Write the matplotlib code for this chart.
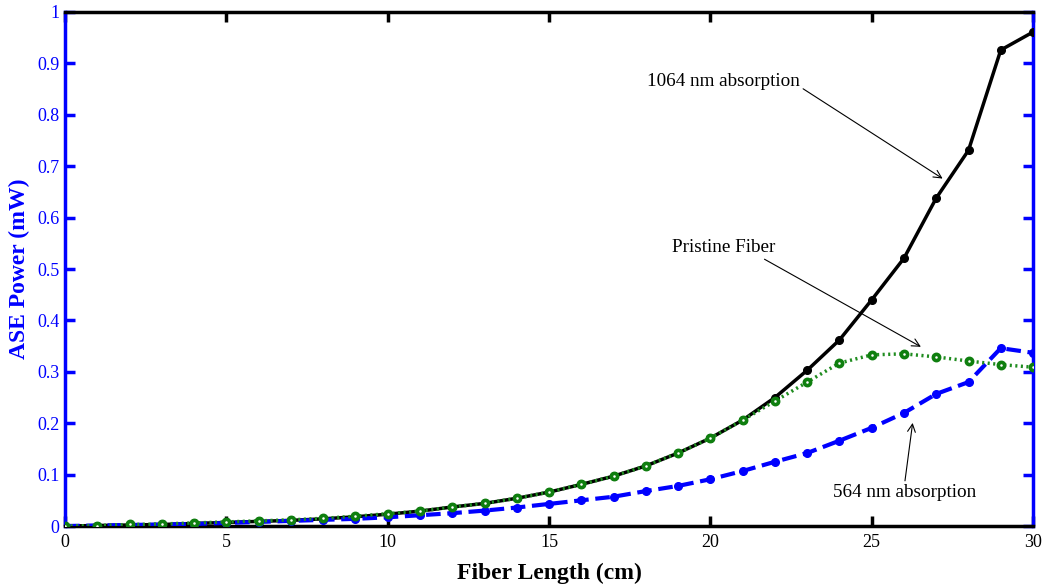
import matplotlib
matplotlib.use("Agg")
import matplotlib.pyplot as plt

# Fiber length positions (cm)
length_cm = list(range(0, 31))

# ASE power (mW) for each fiber condition
power_1064 = [0.000, 0.001, 0.002, 0.003, 0.005, 0.007, 0.009, 0.011, 0.014, 0.018,
              0.023, 0.029, 0.037, 0.044, 0.054, 0.066, 0.081, 0.097, 0.117, 0.142,
              0.171, 0.206, 0.250, 0.303, 0.362, 0.440, 0.521, 0.638, 0.731, 0.926,
              0.961]
power_pristine = [0.000, 0.001, 0.003, 0.004, 0.006, 0.008, 0.010, 0.012, 0.015, 0.019,
                  0.024, 0.029, 0.037, 0.044, 0.054, 0.066, 0.081, 0.097, 0.117, 0.142,
                  0.171, 0.206, 0.243, 0.280, 0.317, 0.333, 0.335, 0.329, 0.321, 0.314,
                  0.309]
power_564 = [0.000, 0.001, 0.002, 0.003, 0.004, 0.006, 0.008, 0.010, 0.012, 0.014,
             0.017, 0.021, 0.025, 0.030, 0.036, 0.043, 0.050, 0.057, 0.068, 0.078,
             0.091, 0.107, 0.125, 0.142, 0.166, 0.191, 0.220, 0.257, 0.280, 0.346,
             0.337]

x_ticks = [0, 5, 10, 15, 20, 25, 30]
y_ticks = [0, 0.1, 0.2, 0.3, 0.4, 0.5, 0.6, 0.7, 0.8, 0.9, 1.0]
y_tick_labels = ["0", "0.1", "0.2", "0.3", "0.4", "0.5", "0.6", "0.7", "0.8", "0.9", "1"]

plt.rcParams["font.family"] = ["Liberation Serif", "DejaVu Serif"]

fig = plt.figure(figsize=(10.44, 5.88), dpi=100)
ax = fig.add_axes([0.0623, 0.1054, 0.9272, 0.8742])

ax.plot(length_cm, power_1064, color="black", lw=2.5, marker="o", ms=5.5,
        mfc="black", mec="black", zorder=3)
ax.plot(length_cm, power_564, color="blue", lw=3, ls=(0, (3.5, 1.6)), marker="o", ms=5.5,
        mfc="blue", mec="blue", zorder=4)
ax.plot(length_cm, power_pristine, color="#1f8c1f", lw=2.5, ls=(0, (0.6, 1.0)), marker="o",
        ms=4.5, mfc="white", mec="#0f7f0f", mew=2.6, zorder=5)

ax.set_xlim(0, 30)
ax.set_ylim(0, 1)
ax.set_xticks(x_ticks)
ax.set_xticklabels([str(t) for t in x_ticks])
ax.set_yticks(y_ticks)
ax.set_yticklabels(y_tick_labels)

ax.tick_params(axis="both", direction="in", length=7, width=2.5, labelsize=13,
               top=True, right=True)
ax.tick_params(axis="x", pad=6)
ax.tick_params(axis="y", pad=4)
ax.tick_params(axis="y", colors="blue", labelcolor="blue")
ax.tick_params(axis="x", colors="black", labelcolor="black")

ax.spines["left"].set_color("blue")
ax.spines["right"].set_color("blue")
ax.spines["top"].set_color("black")
ax.spines["bottom"].set_color("black")
for s in ax.spines.values():
    s.set_linewidth(2.5)

ax.set_xlabel("Fiber Length (cm)", fontsize=17, fontweight="bold", labelpad=8)
ax.set_ylabel("ASE Power (mW)", fontsize=17, fontweight="bold", color="blue", labelpad=5)

arrow = dict(arrowstyle="->", color="black", lw=0.8, mutation_scale=14)
ax.annotate("1064 nm absorption", xy=(27.27, 0.673), xytext=(18.05, 0.864),
            fontsize=13.8, ha="left", va="center", arrowprops=dict(arrow, shrinkA=0, relpos=(1.0, 0.2)))
ax.annotate("Pristine Fiber", xy=(26.6, 0.346), xytext=(18.8, 0.541),
            fontsize=13.8, ha="left", va="center", arrowprops=dict(arrow, shrinkA=0, relpos=(0.85, 0.0)))
ax.annotate("564 nm absorption", xy=(26.28, 0.206), xytext=(23.8, 0.066),
            fontsize=13.8, ha="left", va="center", arrowprops=dict(arrow, shrinkA=0, relpos=(0.5, 1.0)))

fig.savefig("out.png", dpi=100)
